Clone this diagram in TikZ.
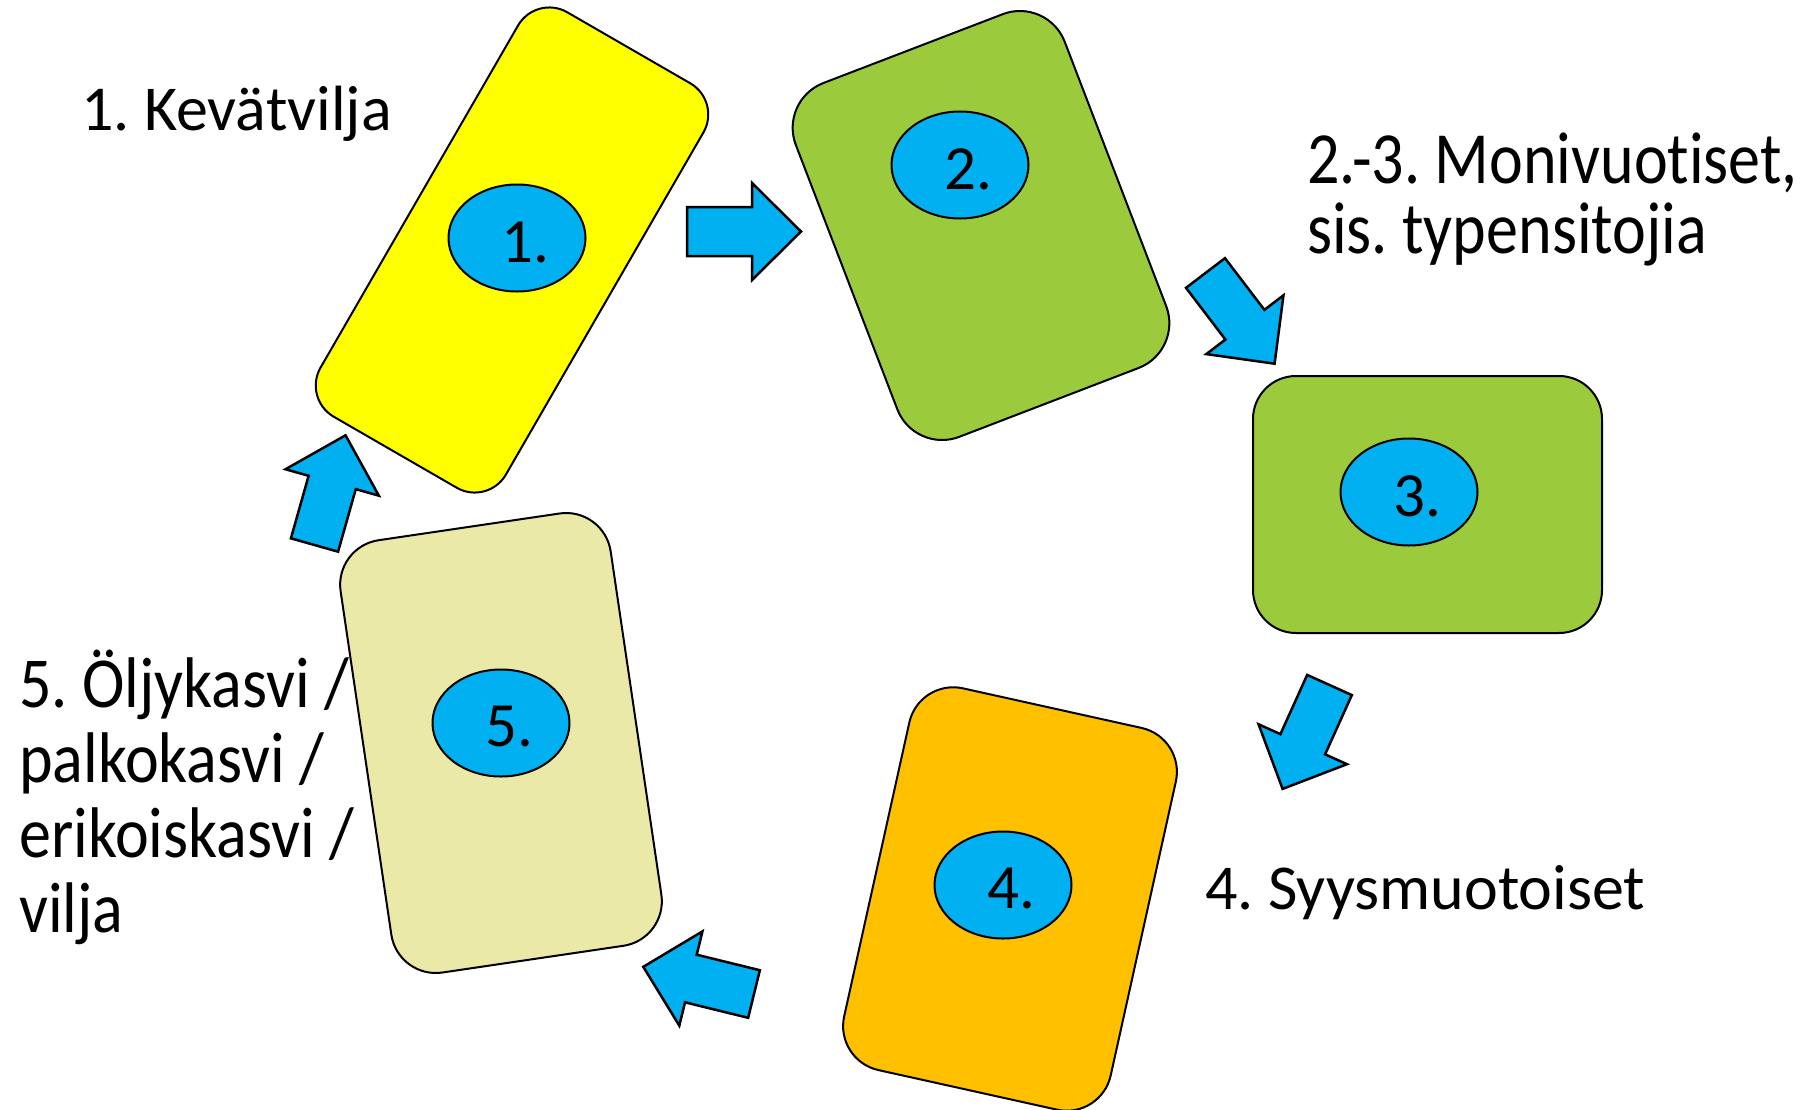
\documentclass[tikz,border=0pt]{standalone}
\usepackage{fontspec}
\setmainfont{Carlito}[Ligatures={NoCommon}]
\usetikzlibrary{shapes.geometric}
\definecolor{cyellow}{HTML}{FFFF00}
\definecolor{cgreen}{HTML}{9BCB3C}
\definecolor{corange}{HTML}{FFC000}
\definecolor{cbeige}{HTML}{EBE9A8}
\definecolor{cblue}{HTML}{00B0F0}
\frenchspacing
\tikzset{
  card/.style={draw=black, line width=2pt, inner sep=0pt},
  num/.style={ellipse, draw=black, fill=cblue, line width=2pt, minimum width=137pt, minimum height=107pt, inner sep=0pt},
  numtxt/.style={inner sep=0pt, font=\fontsize{63}{63}\selectfont},
  lbl/.style={inner sep=0pt, anchor=base west, font=\fontsize{64}{64}\selectfont},
  arrowfill/.style={draw=black, fill=cblue, line width=2.5pt, line join=miter},
  blockarrow/.pic={\path[arrowfill] (0,-24.5) -- (65,-24.5) -- (65,-48.5) -- (114,0) -- (65,48.5) -- (65,24.5) -- (0,24.5) -- cycle;}
}
\begin{document}
\begin{tikzpicture}[x=1pt,y=-1pt]
\useasboundingbox (0,0) rectangle (1808,1109);
\clip (0,0) rectangle (1808,1109);
\fill[white] (0,0) rectangle (1808,1109);
% cards
\node[card, fill=cyellow, minimum width=214pt, minimum height=467pt, rounded corners=36pt, rotate=-30] (r1) at (512,250) {};
\node[card, fill=cgreen, minimum width=288pt, minimum height=379pt, rounded corners=48pt, rotate=21] (r2) at (981,225.5) {};
\node[card, fill=cgreen, minimum width=349pt, minimum height=257pt, rounded corners=43pt] (r3) at (1427.5,504.5) {};
\node[card, fill=corange, minimum width=273pt, minimum height=391pt, rounded corners=45pt, rotate=-12.5] (r4) at (1010,899) {};
\node[card, fill=cbeige, minimum width=273pt, minimum height=437pt, rounded corners=45pt, rotate=8.4] (r5) at (501,743) {};
% numbers
\node[num] (e1) at (517,238) {};
\node[num] (e2) at (960,165) {};
\node[num] (e3) at (1409,492) {};
\node[num] (e4) at (1003,885) {};
\node[num] (e5) at (501,723) {};
\node[numtxt] (n1) at ([xshift=8pt,yshift=-4pt]e1.center) {1.};
\node[numtxt] (n2) at ([xshift=8pt,yshift=-4pt]e2.center) {2.};
\node[numtxt] (n3) at ([xshift=8pt,yshift=-4pt]e3.center) {3.};
\node[numtxt] (n4) at ([xshift=8pt,yshift=-4pt]e4.center) {4.};
\node[numtxt] (n5) at ([xshift=8pt,yshift=-4pt]e5.center) {5.};
% arrows
\pic[rotate=0] (a12) at (687,231.5) {blockarrow};
\pic[rotate=-52.7] (a23) at (1205.5,273) {blockarrow};
\pic[rotate=-114.3] (a34) at (1329.5,685) {blockarrow};
\pic[rotate=166.2] (a45) at (754,994) {blockarrow};
\pic[rotate=74.2] (a51) at (314.5,545) {blockarrow};
% labels
\node[lbl] (t1) at (81,130) {1. Kevätvilja};
\node[lbl, yscale=1.15] (t2a) at (1307,183) {2.-3. Monivuotiset,};
\node[lbl, yscale=1.15] (t2b) at (1307,253) {sis. typensitojia};
\node[lbl] (t4) at (1205,909) {4. Syysmuotoiset};
\node[lbl, yscale=1.12] (t5a) at (19,707) {5. Öljykasvi /};
\node[lbl, yscale=1.12] (t5b) at (19,782) {palkokasvi /};
\node[lbl, yscale=1.12] (t5c) at (19,857) {erikoiskasvi /};
\node[lbl, yscale=1.12] (t5d) at (19,932) {vilja};
\end{tikzpicture}
\end{document}
